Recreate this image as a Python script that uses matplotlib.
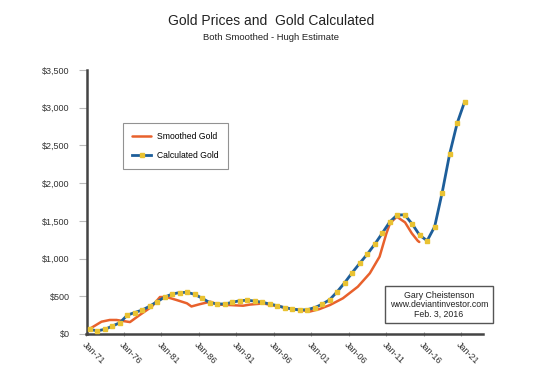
import matplotlib
matplotlib.use("Agg")
import matplotlib.pyplot as plt
import numpy as np

plt.rcParams['font.family'] = ['Liberation Sans', 'DejaVu Sans']

# Calculated gold (annual markers)
calc_years = list(range(1971, 2022))
calc_values = [60, 42, 62, 105, 150, 250, 285, 318, 370, 430,
               490, 530, 550, 552, 525, 473, 415, 398, 398, 420,
               442, 447, 437, 420, 398, 375, 349, 331, 318, 322,
               350, 395, 455, 561, 680, 813, 937, 1057, 1189, 1335,
               1485, 1578, 1580, 1459, 1309, 1237, 1423, 1874, 2387, 2794,
               3080]

# Smoothed gold (line only)
smooth_years = [1971.2, 1973.0, 1974.1, 1975.0, 1976.8, 1978.1, 1979.7, 1980.8,
                1981.7, 1983.0, 1984.4, 1985.0, 1986.1, 1987.5, 1988.6, 1990.1,
                1991.9, 1992.8, 1994.6, 1996.8, 1998.6, 2000.4, 2000.8, 2002.1,
                2003.5, 2005.2, 2007.2, 2008.8, 2010.1, 2011.0, 2011.5, 2012.4,
                2013.5, 2014.4, 2015.2, 2015.4]
smooth_values = [55, 163, 186, 186, 158, 252, 362, 490,
                 490, 451, 407, 365, 395, 428, 390, 384,
                 375, 390, 405, 362, 331, 305, 298, 331,
                 385, 473, 627, 805, 1025, 1330, 1470, 1555,
                 1480, 1335, 1235, 1220]

tick_years = list(range(1971, 2022, 5))
tick_labels = ['Jan-71', 'Jan-76', 'Jan-81', 'Jan-86', 'Jan-91', 'Jan-96',
               'Jan-01', 'Jan-06', 'Jan-11', 'Jan-16', 'Jan-21']
y_ticks = [0, 500, 1000, 1500, 2000, 2500, 3000, 3500]
y_labels = ['$0', '$500', '$1,000', '$1,500', '$2,000', '$2,500', '$3,000', '$3,500']

W, H = 534, 391
fig = plt.figure(figsize=(W / 100, H / 100), dpi=100)
ax = fig.add_axes([86.5 / W, 1 - 334 / H, (483 - 86.5) / W, (334 - 70) / H])

calc_x = [y + 0.45 for y in calc_years]
ax.plot(smooth_years, smooth_values, color='#E8612C', lw=1.8, label='Smoothed Gold',
        solid_capstyle='round', zorder=2)
ax.plot(calc_x, calc_values, color='#1D5E9A', lw=2.0, marker='s', markersize=3.4,
        markerfacecolor='#E9C232', markeredgecolor='#E9C232', label='Calculated Gold', zorder=3)

ax.set_xlim(1971, 2023.9)
ax.set_ylim(0, 3500)
ax.set_xticks(tick_years)
ax.set_xticklabels(tick_labels, rotation=-45, ha='left', va='top', rotation_mode='anchor',
                   fontsize=6.5, color='#333333')
ax.set_yticks(y_ticks)
ax.set_yticklabels(y_labels, fontsize=6.5, color='#333333')
ax.tick_params(axis='y', length=6, width=0.8, color='#bbbbbb', pad=6)
ax.tick_params(axis='x', length=3, width=0.8, color='#999999', pad=3, direction='inout')

for s in ['top', 'right']:
    ax.spines[s].set_visible(False)
for s in ['left', 'bottom']:
    ax.spines[s].set_color('#444444')
    ax.spines[s].set_linewidth(1.8)

leg = ax.legend(loc='upper left', bbox_to_anchor=(123 / W, 1 - 123 / H),
                bbox_transform=fig.transFigure, fontsize=6.2, frameon=True, fancybox=False,
                edgecolor='#777777', borderpad=1.1, labelspacing=1.1, handlelength=2.2,
                handletextpad=0.6, borderaxespad=0)
leg.get_frame().set_linewidth(0.8)

fig.text(271 / W, 1 - 21 / H, 'Gold Prices and  Gold Calculated', ha='center', va='center',
         fontsize=10, color='#222222')
fig.text(271 / W, 1 - 37.5 / H, 'Both Smoothed - Hugh Estimate', ha='center', va='center',
         fontsize=6.8, color='#222222')

fig.text(439 / W, 1 - 304.5 / H, 'Gary Cheistenson\nwww.deviantinvestor.com\nFeb. 3, 2016',
         ha='center', va='center', fontsize=6.3, color='#222222', linespacing=1.05,
         bbox=dict(boxstyle='square,pad=0.55', fc='white', ec='#555555', lw=1.0))

fig.savefig('out.png', dpi=100)
